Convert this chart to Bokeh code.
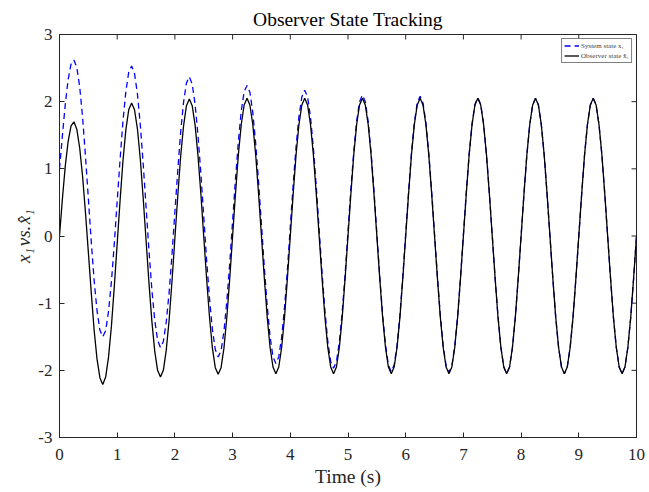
import numpy as np
from bokeh.plotting import figure
from bokeh.models import Range1d, FixedTicker, Legend, LegendItem, ColumnDataSource
from bokeh.embed import file_html
from bokeh.resources import INLINE

# sampling times (s), every 0.05 s
time_s = np.linspace(0, 10, 201)

# System state x1 (blue dashed)
system_x1 = [
    1.00, 1.49, 1.96, 2.33, 2.56, 2.62, 2.51, 2.22, 1.77, 1.19, 0.56, -0.08, -0.66, -1.11, -1.40, -1.50, -1.41, -1.12, -0.68, -0.11,
    0.52, 1.14, 1.71, 2.15, 2.44, 2.53, 2.42, 2.12, 1.66, 1.08, 0.44, -0.21, -0.79, -1.25, -1.55, -1.66, -1.57, -1.28, -0.84, -0.27,
    0.36, 0.98, 1.55, 1.99, 2.28, 2.37, 2.26, 1.96, 1.50, 0.93, 0.29, -0.36, -0.93, -1.39, -1.69, -1.80, -1.71, -1.42, -0.97, -0.41,
    0.22, 0.85, 1.41, 1.86, 2.15, 2.24, 2.14, 1.84, 1.38, 0.81, 0.17, -0.47, -1.04, -1.50, -1.80, -1.90, -1.80, -1.51, -1.06, -0.50,
    0.14, 0.77, 1.33, 1.78, 2.07, 2.17, 2.07, 1.77, 1.31, 0.74, 0.10, -0.54, -1.11, -1.57, -1.87, -1.97, -1.87, -1.58, -1.13, -0.57,
    0.07, 0.70, 1.26, 1.71, 2.00, 2.10, 2.00, 1.70, 1.25, 0.68, 0.04, -0.60, -1.17, -1.62, -1.92, -2.02, -1.92, -1.63, -1.18, -0.60,
    0.03, 0.66, 1.24, 1.69, 1.98, 2.08, 1.98, 1.69, 1.23, 0.66, 0.03, -0.61, -1.18, -1.64, -1.93, -2.03, -1.93, -1.64, -1.19, -0.62,
    0.02, 0.65, 1.22, 1.67, 1.96, 2.06, 1.96, 1.67, 1.21, 0.64, 0.01, -0.63, -1.20, -1.66, -1.95, -2.05, -1.95, -1.66, -1.21, -0.63,
    0.00, 0.63, 1.21, 1.66, 1.95, 2.05, 1.95, 1.66, 1.21, 0.63, 0.00, -0.63, -1.21, -1.66, -1.95, -2.05, -1.95, -1.66, -1.21, -0.63,
    0.00, 0.63, 1.21, 1.66, 1.95, 2.05, 1.95, 1.66, 1.21, 0.63, 0.00, -0.63, -1.21, -1.66, -1.95, -2.05, -1.95, -1.66, -1.21, -0.63,
    0.00,
]

# Observer state x1-hat (black solid)
observer_x1 = [
    0.00, 0.55, 1.04, 1.41, 1.64, 1.70, 1.59, 1.31, 0.89, 0.35, -0.24, -0.84, -1.40, -1.83, -2.11, -2.21, -2.10, -1.80, -1.34, -0.75,
    -0.11, 0.53, 1.12, 1.58, 1.88, 1.98, 1.88, 1.60, 1.15, 0.57, -0.06, -0.69, -1.26, -1.71, -2.00, -2.10, -2.00, -1.70, -1.25, -0.67,
    -0.03, 0.60, 1.19, 1.64, 1.94, 2.04, 1.94, 1.65, 1.20, 0.63, -0.01, -0.64, -1.21, -1.67, -1.96, -2.06, -1.96, -1.67, -1.21, -0.64,
    0.00, 0.63, 1.21, 1.66, 1.95, 2.05, 1.95, 1.66, 1.21, 0.63, 0.00, -0.63, -1.21, -1.66, -1.95, -2.05, -1.95, -1.66, -1.21, -0.63,
    0.00, 0.63, 1.21, 1.66, 1.95, 2.05, 1.95, 1.66, 1.21, 0.63, 0.00, -0.63, -1.21, -1.66, -1.95, -2.05, -1.95, -1.66, -1.21, -0.63,
    0.00, 0.63, 1.21, 1.66, 1.95, 2.05, 1.95, 1.66, 1.21, 0.63, 0.00, -0.63, -1.21, -1.66, -1.95, -2.05, -1.95, -1.66, -1.21, -0.63,
    0.00, 0.63, 1.21, 1.66, 1.95, 2.05, 1.95, 1.66, 1.21, 0.63, 0.00, -0.63, -1.21, -1.66, -1.95, -2.05, -1.95, -1.66, -1.21, -0.63,
    0.00, 0.63, 1.21, 1.66, 1.95, 2.05, 1.95, 1.66, 1.21, 0.63, 0.00, -0.63, -1.21, -1.66, -1.95, -2.05, -1.95, -1.66, -1.21, -0.63,
    0.00, 0.63, 1.21, 1.66, 1.95, 2.05, 1.95, 1.66, 1.21, 0.63, 0.00, -0.63, -1.21, -1.66, -1.95, -2.05, -1.95, -1.66, -1.21, -0.63,
    0.00, 0.63, 1.21, 1.66, 1.95, 2.05, 1.95, 1.66, 1.21, 0.63, 0.00, -0.63, -1.21, -1.66, -1.95, -2.05, -1.95, -1.66, -1.21, -0.63,
    0.00,
]

x_ticks = [0, 1, 2, 3, 4, 5, 6, 7, 8, 9, 10]
x_tick_labels = ["0", "1", "2", "3", "4", "5", "6", "7", "8", "9", "10"]
y_ticks = [-3, -2, -1, 0, 1, 2, 3]
y_tick_labels = ["-3", "-2", "-1", "0", "1", "2", "3"]

title_text = "Observer State Tracking"
x_label = "Time (s)"
y_label = "x\u2081\u200avs.\u200ax\u0302\u2081"
legend_labels = ["System state x\u2081", "Observer state x\u0302\u2081"]

FONT = "Liberation Serif"
AX = "#262626"

p = figure(width=648, height=490, output_backend="svg", toolbar_location=None,
           x_range=Range1d(x_ticks[0], x_ticks[-1]), y_range=Range1d(y_ticks[0], y_ticks[-1]),
           min_border_left=59, min_border_right=12, min_border_top=34, min_border_bottom=53,
           title=title_text)
p.title.align = "center"
p.title.text_font = FONT
p.title.text_font_size = "19.5px"
p.title.text_font_style = "normal"
p.title.text_color = "black"
p.title.standoff = 10
p.grid.visible = False
p.outline_line_color = AX
p.outline_line_width = 1
p.background_fill_color = "white"
p.border_fill_color = "white"

for ax in (p.xaxis[0], p.yaxis[0]):
    ax.major_tick_in = 5
    ax.major_tick_out = 0
    ax.minor_tick_line_color = None
    ax.axis_line_color = AX
    ax.major_tick_line_color = AX
    ax.major_label_text_font = FONT
    ax.major_label_text_font_size = "17px"
    ax.major_label_text_color = AX
    ax.axis_label_text_font = FONT
    ax.axis_label_text_font_size = "19.5px"
    ax.axis_label_text_color = AX
p.xaxis[0].ticker = FixedTicker(ticks=x_ticks)
p.yaxis[0].ticker = FixedTicker(ticks=y_ticks)
p.xaxis[0].major_label_overrides = dict(zip(x_ticks, x_tick_labels))
p.yaxis[0].major_label_overrides = dict(zip(y_ticks, y_tick_labels))
p.xaxis[0].axis_label = x_label
p.xaxis[0].axis_label_text_font_style = "normal"
p.yaxis[0].axis_label = y_label
p.yaxis[0].axis_label_text_font_style = "italic"
p.yaxis[0].axis_label_text_font_size = "19px"
p.xaxis[0].major_label_standoff = 11
p.yaxis[0].major_label_standoff = 7
p.xaxis[0].axis_label_standoff = 3
p.yaxis[0].axis_label_standoff = 1

# inward tick marks on the top and right edges of the box (outer halves are clipped by the frame)
p.scatter(x=x_ticks, y=[y_ticks[-1]] * len(x_ticks), marker="dash", size=10, angle=np.pi / 2,
          line_color=AX, line_width=1)
p.scatter(x=[x_ticks[-1]] * len(y_ticks), y=y_ticks, marker="dash", size=10,
          line_color=AX, line_width=1)

src = ColumnDataSource(dict(t=time_s, x1=system_x1, xh=observer_x1))
r_sys = p.line("t", "x1", source=src, line_color="#0000ff", line_width=1.3, line_dash="6 4")
r_obs = p.line("t", "xh", source=src, line_color="black", line_width=1.3)

legend = Legend(items=[LegendItem(label=legend_labels[0], renderers=[r_sys]),
                       LegendItem(label=legend_labels[1], renderers=[r_obs])],
                location="top_right")
legend.label_text_font = FONT
legend.label_text_font_size = "7px"
legend.label_height = 9
legend.glyph_height = 9
legend.glyph_width = 15
legend.label_standoff = 2
legend.spacing = 1
legend.padding = 2
legend.margin = 4
legend.border_line_color = "black"
legend.border_line_width = 1
p.add_layout(legend)

open("out.html", "w").write(file_html(p, INLINE))
